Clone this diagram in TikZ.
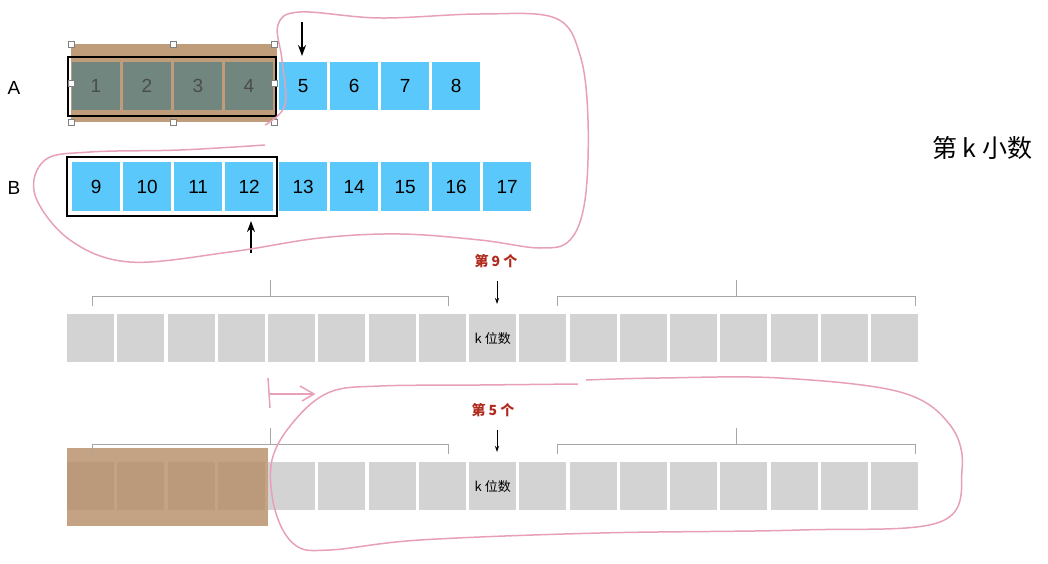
\documentclass[tikz,border=0pt]{standalone}
\usepackage{fontspec}
\setmainfont{Liberation Sans}
\newfontfamily\cjk{Noto Sans CJK SC}
\usetikzlibrary{arrows.meta}
\definecolor{bl}{HTML}{5AC8FA}
\definecolor{gr}{HTML}{D3D3D3}
\definecolor{tan}{HTML}{B48C64}
\definecolor{pk}{HTML}{E8A0B8}
\definecolor{rd}{HTML}{B02A1E}
\definecolor{ov}{HTML}{6B8580}
\tikzset{
 bbox/.style={fill=bl,minimum width=48pt,minimum height=48pt,inner sep=0,font=\fontsize{19pt}{19pt}\selectfont,anchor=north west},
 gbox/.style={fill=gr,minimum width=47pt,minimum height=48pt,inner sep=0,anchor=north west},
 pinkl/.style={draw=pk,line width=1.5pt},
 brk/.style={draw=gray!70,line width=0.6pt},
 arr/.style={-{Stealth[length=11pt,width=8pt]},line width=2pt},
 sarr/.style={-{Stealth[length=6pt,width=4pt]},line width=0.8pt},
 handle/.style={draw=gray,fill=white,minimum size=6pt,inner sep=0},
 redl/.style={text=rd,font=\cjk\bfseries\fontsize{14pt}{14pt}\selectfont},
 klab/.style={font=\cjk\fontsize{13pt}{13pt}\selectfont}
}
\begin{document}
\begin{tikzpicture}[x=1pt,y=-1pt]
\useasboundingbox (0,0) rectangle (1048,564);
\node[font=\fontsize{19pt}{19pt}\selectfont] (la) at (14,88) {A};
\node[font=\fontsize{19pt}{19pt}\selectfont] (lb) at (14,188) {B};
% row A
\foreach \i/\x in {1/72,2/123,3/174,4/225,5/279,6/330,7/381,8/432}
  \node[bbox] (a\i) at (\x,62) {\i};
\fill[tan,opacity=0.85] (71,44) rectangle (277,122);
\foreach \x in {72,123,174,225} \fill[ov,opacity=0.9] (\x,62) rectangle ++(48,48);
\foreach \i/\x in {1/96,2/147,3/198,4/249}
  \node[font=\fontsize{19pt}{19pt}\selectfont,text=black!70] (ta\i) at (\x,86) {\i};
\draw[line width=1.2pt] (68,57) rectangle (276,116);
\foreach \x in {71,173,274} \foreach \y in {44,122} \node[handle] at (\x,\y) {};
\node[handle] at (71,83) {}; \node[handle] at (274,83) {};
% row B
\foreach \i/\x in {9/72,10/123,11/174,12/225,13/279,14/330,15/381,16/432,17/483}
  \node[bbox,minimum height=49pt] (b\i) at (\x,162) {\i};
\draw[line width=1.2pt] (67,157) rectangle (277,216);
\coordinate (d1) at (302,22); \coordinate (d2) at (302,56);
\draw[arr] (d1) -- (d2);
\coordinate (u1) at (251,253); \coordinate (u2) at (251,221);
\draw[arr] (u1) -- (u2);
% pink loop 1
\draw[pinkl] plot[smooth,tension=0.6] coordinates {(265,125)(285,105)(282,60)(278,25)(300,12)(380,18)(480,14)(555,18)(580,55)(588,120)(585,200)(570,240)(540,248)(480,240)(400,234)(320,238)(230,252)(130,262)(70,240)(35,195)(45,160)(90,152)(180,150)(265,145)};
\node[font=\cjk\fontsize{25pt}{25pt}\selectfont] (title) at (982,148) {第 k 小数};
% middle row
\foreach \i in {0,...,16} \node[gbox] (m\i) at (67+50.25*\i,314) {};
\node[klab] at (m8) {k 位数};
\draw[brk] (92,306) -- (92,296) -- (448,296) -- (448,306); \draw[brk] (270,296) -- (270,280);
\draw[brk] (557,306) -- (557,296) -- (915,296) -- (915,306); \draw[brk] (736,296) -- (736,280);
\node[redl] (r9) at (496,261) {第 9 个};
\coordinate (s9) at (497,281); \coordinate (e9) at (497,304);
\draw[sarr] (s9) -- (e9);
% bottom row
\foreach \i in {0,...,16} \node[gbox] (n\i) at (67+50.25*\i,462) {};
\node[klab] at (n8) {k 位数};
\fill[tan,opacity=0.8] (67,448) rectangle (268,526);
\draw[brk] (92,454) -- (92,444) -- (448,444) -- (448,454); \draw[brk] (270,444) -- (270,428);
\draw[brk] (557,454) -- (557,444) -- (915,444) -- (915,454); \draw[brk] (736,444) -- (736,428);
\node[redl] (r5) at (493,410) {第 5 个};
\coordinate (s5) at (497,430); \coordinate (e5) at (497,452);
\draw[sarr] (s5) -- (e5);
% pink arrow
\draw[pinkl] (268,378) -- (270,408);
\draw[pinkl] (270,394) -- (314,394);
\draw[pinkl] (300,386) -- (314,394) -- (302,401);
% pink loop 2
\draw[pinkl] plot[smooth,tension=0.6] coordinates {(578,384)(480,385)(380,386)(330,392)(295,420)(272,460)(275,510)(295,545)(330,550)(420,540)(600,533)(800,530)(940,522)(962,470)(950,425)(900,392)(780,378)(660,378)(586,380)};
\end{tikzpicture}
\end{document}
